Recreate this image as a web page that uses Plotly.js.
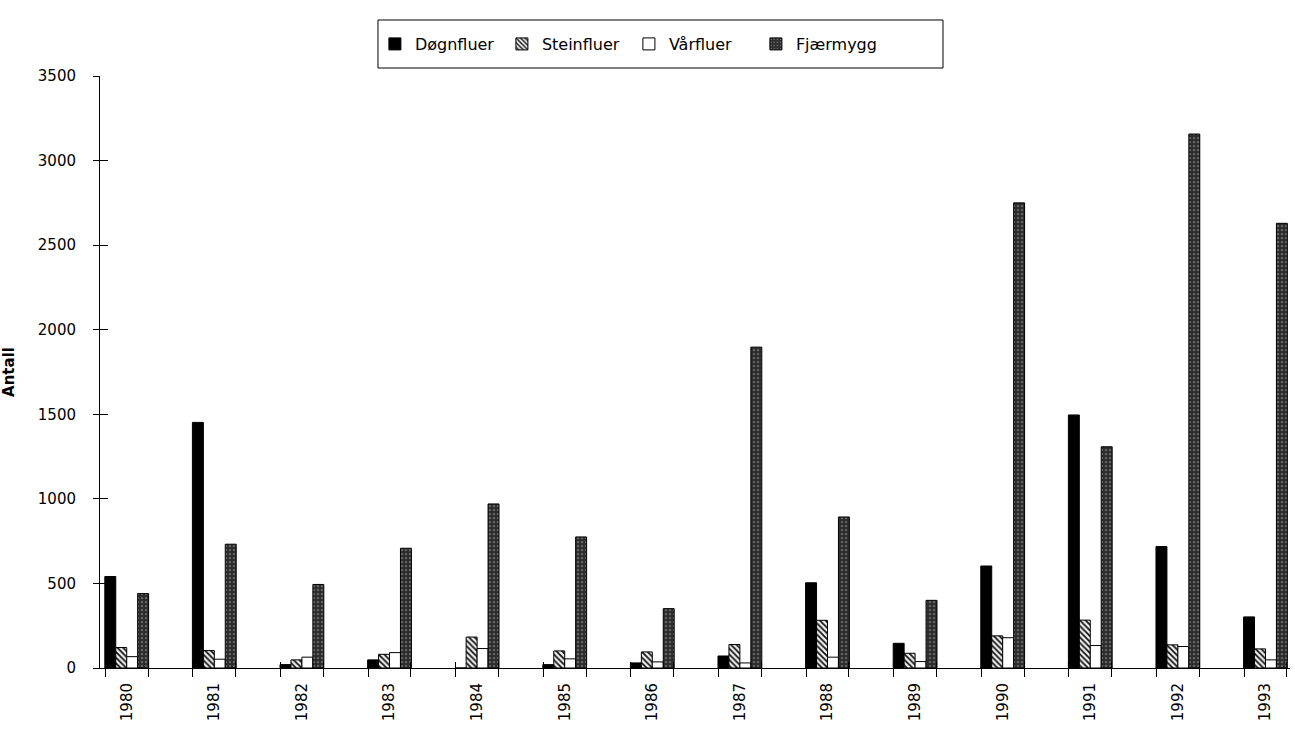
<!DOCTYPE html>
<html>
<head>
<meta charset="utf-8">
<script src="https://cdn.plot.ly/plotly-3.0.1.min.js"></script>
<style>html,body{margin:0;padding:0;background:#fff;}#chart{width:1295px;height:730px;}</style>
</head>
<body>
<div id="chart"></div>
<script>
const years = [1980, 1981, 1982, 1983, 1984, 1985, 1986, 1987, 1988, 1989, 1990, 1991, 1992, 1993];
const yearLabels = ["1980","1981","1982","1983","1984","1985","1986","1987","1988","1989","1990","1991","1992","1993"];
const dognfluer = [541, 1452, 20, 48, 0, 20, 30, 71, 504, 146, 603, 1496, 718, 302];
const steinfluer = [121, 103, 48, 81, 183, 101, 95, 139, 282, 87, 190, 283, 137, 113];
const varfluer = [67, 52, 64, 91, 115, 54, 36, 30, 64, 38, 179, 133, 127, 48];
const fjaermygg = [440, 732, 494, 708, 970, 775, 351, 1897, 893, 400, 2750, 1308, 3157, 2629];
const yTicks = [0, 500, 1000, 1500, 2000, 2500, 3000, 3500];

const xRange = [1979.695, 1993.28];
const yRange = [0, 3500];
const edgeTicks = [];
years.forEach(y => { edgeTicks.push(y - 0.245); edgeTicks.push(y + 0.245); });

const line = {color: '#000', width: 1};
const traces = [
  {type: 'bar', name: 'Døgnfluer', x: years, y: dognfluer,
   marker: {color: '#000', line: line}},
  {type: 'bar', name: 'Steinfluer', x: years, y: steinfluer,
   marker: {color: '#fff', line: line, pattern: {shape: '\\', fgcolor: '#111', bgcolor: '#f0f0f0', size: 4, solidity: 0.45}}},
  {type: 'bar', name: 'Vårfluer', x: years, y: varfluer,
   marker: {color: '#fff', line: line}},
  {type: 'bar', name: 'Fjærmygg', x: years, y: fjaermygg,
   marker: {color: '#333', line: line, pattern: {shape: '.', fgcolor: '#9a9a9a', bgcolor: '#2e2e2e', size: 4, solidity: 0.15}}},
  {type: 'scatter', mode: 'markers', x: [], y: [], xaxis: 'x2', yaxis: 'y2',
   showlegend: false, hoverinfo: 'skip'}
];

const font = {family: 'DejaVu Sans, Liberation Sans, sans-serif', color: '#000'};

const layout = {
  width: 1295, height: 730,
  paper_bgcolor: '#fff', plot_bgcolor: '#fff',
  font: Object.assign({size: 15}, font),
  margin: {l: 100, r: 5, t: 76, b: 62},
  barmode: 'group',
  bargap: 0.5,
  bargroupgap: 0,
  showlegend: true,
  legend: {
    orientation: 'h',
    xref: 'container', yref: 'container',
    x: 0.2895, xanchor: 'left',
    y: 0.9397, yanchor: 'middle',
    borderwidth: 0,
    bgcolor: 'rgba(0,0,0,0)',
    font: Object.assign({size: 16}, font),
    itemwidth: 30,
    entrywidth: 82,
    entrywidthmode: 'pixels',
    traceorder: 'normal'
  },
  shapes: [
    {type: 'rect', xref: 'paper', yref: 'paper', x0: 0.2336, x1: 0.7084, y0: 1.0135, y1: 1.0946,
     line: {color: '#000', width: 1}, fillcolor: 'rgba(0,0,0,0)', layer: 'below'}
  ],
  xaxis: {
    type: 'linear',
    range: xRange,
    tickmode: 'array',
    tickvals: years,
    ticktext: yearLabels,
    tickangle: -90,
    ticks: '',
    ticklabelstandoff: 8,
    showline: true, linecolor: '#000', linewidth: 1,
    showgrid: false, zeroline: false,
    tickfont: Object.assign({size: 15}, font),
    minor: {tickmode: 'array', tickvals: edgeTicks, ticks: 'outside', ticklen: 8, tickcolor: '#000', tickwidth: 1, showgrid: false}
  },
  xaxis2: {
    type: 'linear', overlaying: 'x', anchor: 'y2', side: 'bottom',
    range: xRange,
    tickmode: 'array', tickvals: edgeTicks,
    ticks: 'inside', ticklen: 6, tickcolor: '#000',
    showticklabels: false, showline: false, showgrid: false, zeroline: false
  },
  yaxis: {
    range: yRange,
    tickmode: 'array',
    tickvals: yTicks,
    ticktext: yTicks.map(String),
    ticks: 'outside', ticklen: 6, tickcolor: '#000',
    ticklabelstandoff: 14,
    showline: true, linecolor: '#000', linewidth: 1,
    showgrid: false, zeroline: false,
    tickfont: Object.assign({size: 15}, font),
    title: {text: '<b>Antall</b>', font: Object.assign({size: 15}, font), standoff: 22}
  },
  yaxis2: {
    overlaying: 'y', anchor: 'x2', side: 'left',
    range: yRange,
    tickmode: 'array', tickvals: yTicks,
    ticks: 'inside', ticklen: 8, tickcolor: '#000',
    showticklabels: false, showline: false, showgrid: false, zeroline: false
  }
};

Plotly.newPlot('chart', traces, layout, {displayModeBar: false, staticPlot: true});
</script>
</body>
</html>
